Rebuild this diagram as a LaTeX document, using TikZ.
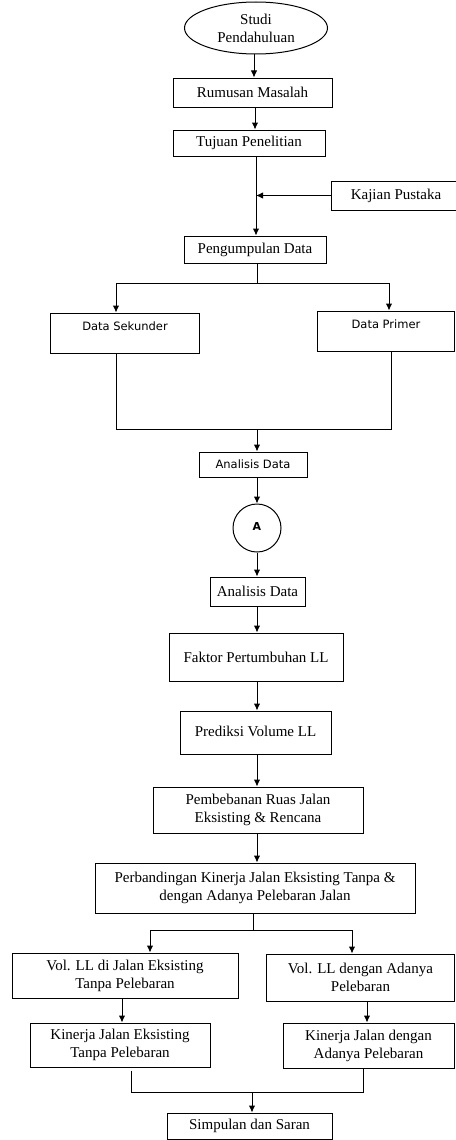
\documentclass[tikz,border=0pt]{standalone}
\usepackage{fontspec}
\setmainfont{Liberation Serif}
\newfontfamily\sansf{DejaVu Sans}
\usetikzlibrary{arrows.meta,shapes.geometric,calc}
\begin{document}
\begin{tikzpicture}[x=1pt,y=-1pt,
  line width=1pt,
  box/.style={draw, rectangle, inner sep=0pt, align=center,
    font=\fontsize{15}{18}\selectfont},
  sbox/.style={draw, rectangle, inner sep=0pt, align=center,
    font=\sansf\fontsize{11.5}{14}\selectfont},
  stext/.style={inner sep=0pt, font=\sansf\fontsize{11.5}{14}\selectfont},
  arr/.style={-{Latex[length=7pt,width=6.5pt]}}]
\useasboundingbox (0,0) rectangle (455,1140);
% nodes
\node[box, ellipse, minimum width=143pt, minimum height=52pt] (stud) at (256,28) {Studi\\Pendahuluan};
\node[box, minimum width=159pt, minimum height=29pt] (rum) at (252.5,92.5) {Rumusan Masalah};
\node[box, minimum width=152pt, minimum height=26pt] (tuj) at (249,143) {Tujuan Penelitian};
\node[box, minimum width=130pt, minimum height=29pt] (kaj) at (396,195.5) {Kajian Pustaka};
\node[box, minimum width=142pt, minimum height=27pt] (pen) at (255,249.5) {Pengumpulan Data};
\node[sbox, minimum width=149pt, minimum height=40pt] (sek) at (124.5,333) {};
\node[stext] (sekt) at (125,326) {Data Sekunder};
\node[sbox, minimum width=137pt, minimum height=40pt] (pri) at (386,331) {};
\node[stext] (prit) at (386,324) {Data Primer};
\node[sbox, minimum width=108pt, minimum height=25pt] (ana1) at (253,464.5) {Analisis Data};
\node[draw, circle, minimum size=48pt, inner sep=0pt, font=\sansf\bfseries\fontsize{11}{13}\selectfont] (A) at (257,528) {\raisebox{3pt}{A}};
\node[box, minimum width=95pt, minimum height=29pt] (ana2) at (257.5,591.5) {Analisis Data};
\node[box, minimum width=174pt, minimum height=48pt] (fak) at (256,657) {Faktor Pertumbuhan LL};
\node[box, minimum width=151pt, minimum height=43pt] (pre) at (255.5,732.5) {\raisebox{3pt}{Prediksi Volume LL}};
\node[box, minimum width=210pt, minimum height=46pt] (pem) at (258,810) {Pembebanan Ruas Jalan\\Eksisting \& Rencana};
\node[box, minimum width=320pt, minimum height=50pt] (per) at (255,888) {Perbandingan Kinerja Jalan Eksisting Tanpa \&\\dengan Adanya Pelebaran Jalan};
\node[box, minimum width=226pt, minimum height=45pt] (vl) at (125,975.5) {Vol. LL di Jalan Eksisting\\Tanpa Pelebaran};
\node[box, minimum width=188pt, minimum height=47pt] (vr) at (360.5,977.5) {Vol. LL dengan Adanya\\Pelebaran};
\node[box, minimum width=180pt, minimum height=44pt] (kl) at (120,1045) {Kinerja Jalan Eksisting\\Tanpa Pelebaran};
\node[box, minimum width=171pt, minimum height=45pt] (kr) at (368.5,1045.5) {Kinerja Jalan dengan\\Adanya Pelebaran};
\node[box, minimum width=165pt, minimum height=26pt] (sim) at (249.5,1126) {Simpulan dan Saran};
% junction coordinates
\coordinate (c1) at (254,0);
\coordinate (c2) at (255,0);
\coordinate (c3) at (256,0);
\coordinate (cm) at (257,0);
\coordinate (j1) at (257,283);
\coordinate (j1l) at (116,283);
\coordinate (j1r) at (389,283);
\coordinate (m1l) at (116,429);
\coordinate (m1r) at (391,429);
\coordinate (m1) at (257,429);
\coordinate (j2) at (253,930);
\coordinate (j2l) at (150,930);
\coordinate (j2r) at (352,930);
\coordinate (m2l) at (131,1092);
\coordinate (m2r) at (363,1092);
\coordinate (m2) at (252,1092);
% connectors
\draw[arr] (stud.south -| c1) -- (rum.north -| c1);
\draw[arr] (rum.south -| c2) -- (tuj.north -| c2);
\draw[arr] (tuj.south -| c3) -- (pen.north -| c3);
\draw[arr] (kaj.west) -- (kaj.west -| c3);
\draw (pen.south -| j1) -- (j1);
\draw (j1l) -- (j1r);
\draw[arr] (j1l) -- (j1l |- sek.north);
\draw[arr] (j1r) -- (j1r |- pri.north);
\draw (sek.south -| m1l) -- (m1l) -- (m1r) -- (pri.south -| m1r);
\draw[arr] (m1) -- (ana1.north -| m1);
\draw[arr] (ana1.south -| cm) -- (A.north);
\draw[arr] (A.south) -- (ana2.north -| cm);
\draw[arr] (ana2.south -| cm) -- (fak.north -| cm);
\draw[arr] (fak.south -| cm) -- (pre.north -| cm);
\draw[arr] (pre.south -| cm) -- (pem.north -| cm);
\draw[arr] (pem.south -| cm) -- (per.north -| cm);
\draw (per.south -| j2) -- (j2);
\draw (j2l) -- (j2r);
\draw[arr] (j2l) -- (j2l |- vl.north);
\draw[arr] (j2r) -- (j2r |- vr.north);
\draw[arr] ($(vl.south)+(-3,0)$) -- ($(kl.north)+(2,0)$);
\draw[arr] ($(vr.south)+(6.5,0)$) -- ($(kr.north)+(-1.5,0)$);
\draw ($(kl.south -| m2l)+(0,3)$) -- (m2l) -- (m2r) -- (kr.south -| m2r);
\draw[arr] (m2) -- (sim.north -| m2);
\end{tikzpicture}
\end{document}
